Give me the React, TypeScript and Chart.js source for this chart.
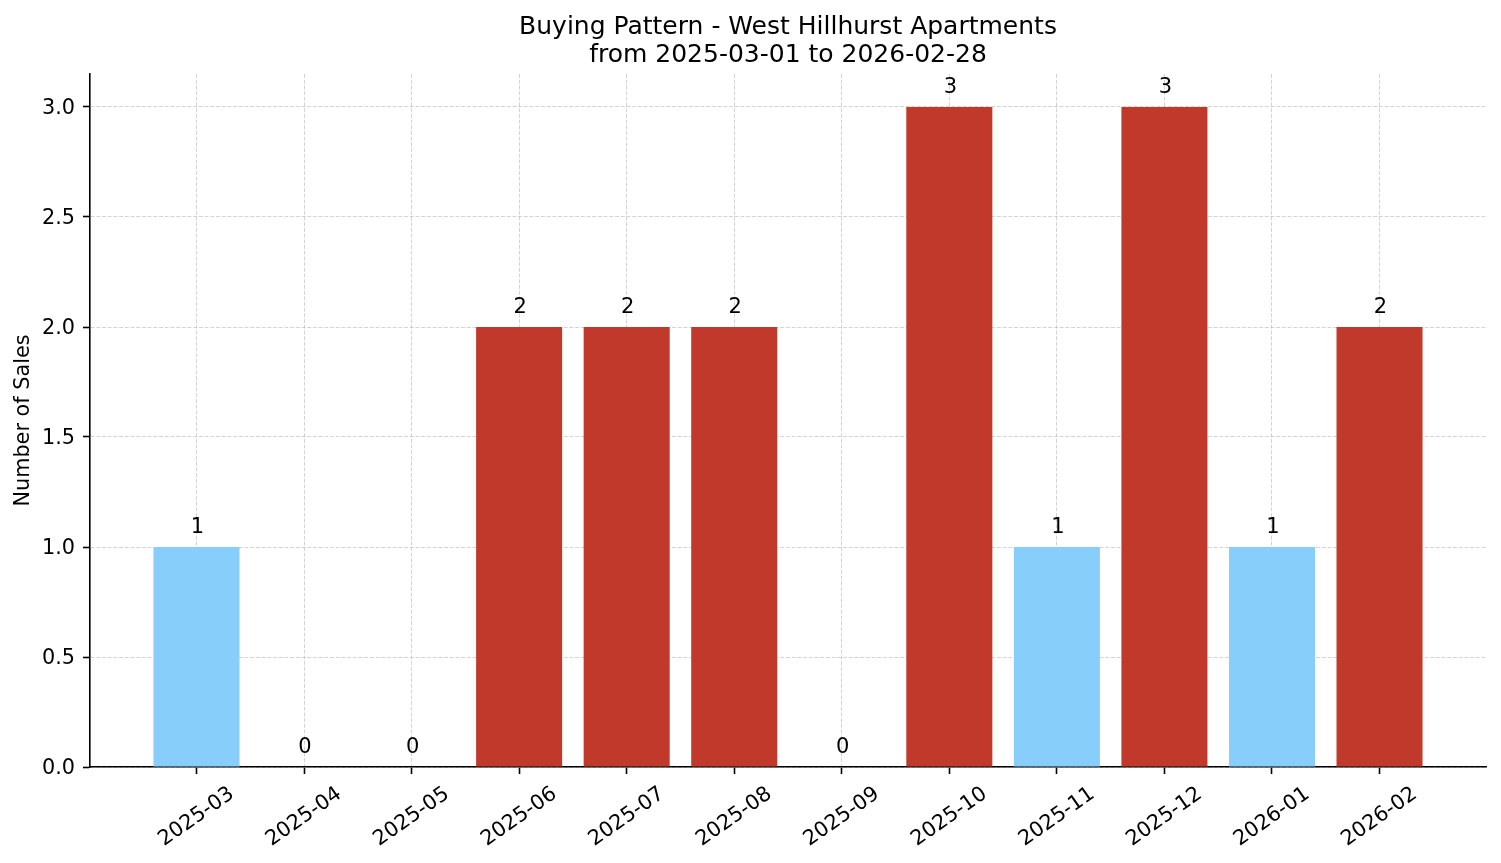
import { useEffect, useRef } from 'react';
import { Chart, registerables } from 'chart.js';

Chart.register(...registerables);

const months = [
  '2025-03', '2025-04', '2025-05', '2025-06', '2025-07', '2025-08',
  '2025-09', '2025-10', '2025-11', '2025-12', '2026-01', '2026-02',
];
const sales = [1, 0, 0, 2, 2, 2, 0, 3, 1, 3, 1, 2];
const yTicks = [0, 0.5, 1, 1.5, 2, 2.5, 3];
const titleLines = ['Buying Pattern - West Hillhurst Apartments', 'from 2025-03-01 to 2026-02-28'];

const BLUE = '#87CEFA';
const RED = '#C0392B';
const FONT = 'DejaVu Sans';
const GRID = 'rgba(176,176,176,0.55)';

// value labels over bars + rotated month labels centred under the ticks
const labelsPlugin = {
  id: 'mplLabels',
  afterDraw(chart: any) {
    const ctx = chart.ctx;
    const meta = chart.getDatasetMeta(0);
    const xs = chart.scales.x;
    ctx.save();
    ctx.fillStyle = '#000';
    ctx.font = `21px "${FONT}"`;
    ctx.textAlign = 'center';
    ctx.textBaseline = 'middle';
    meta.data.forEach((bar: any, i: number) => {
      ctx.fillText(String(sales[i]), bar.x + 1, bar.y - 19);
    });
    ctx.font = `20.8px "${FONT}"`;
    months.forEach((m, i) => {
      const x = xs.getPixelForValue(i);
      ctx.save();
      ctx.translate(x, xs.top + 50);
      ctx.rotate((-35 * Math.PI) / 180);
      ctx.fillText(m, 0, 0);
      ctx.restore();
    });
    ctx.restore();
  },
};

export default function App() {
  const canvasRef = useRef<HTMLCanvasElement>(null);
  const chartRef = useRef<Chart | null>(null);

  useEffect(() => {
    if (!canvasRef.current) return;
    const mean = sales.reduce((a, b) => a + b, 0) / sales.length;

    chartRef.current = new Chart(canvasRef.current, {
      type: 'bar',
      data: {
        datasets: [
          {
            data: sales.map((v, i) => ({ x: i, y: v })),
            backgroundColor: sales.map((v) => (v > mean ? RED : BLUE)),
            borderWidth: 0,
            categoryPercentage: 1,
            barPercentage: 0.8,
          },
        ],
      },
      options: {
        animation: false,
        responsive: true,
        maintainAspectRatio: false,
        layout: { padding: { left: 0, right: 15, top: 0, bottom: 0 } },
        plugins: {
          legend: { display: false },
          tooltip: { enabled: false },
          title: {
            display: true,
            fullSize: false,
            text: titleLines,
            color: '#000',
            font: { family: FONT, size: 25, weight: 'normal', lineHeight: '28px' },
            padding: { top: 13, bottom: 5 },
          },
        },
        scales: {
          x: {
            type: 'linear',
            offset: false,
            min: -0.99,
            max: 11.99,
            z: 1,
            afterBuildTicks: (scale: any) => {
              scale.ticks = months.map((_, i) => ({ value: i }));
            },
            afterFit: (scale: any) => {
              scale.height = 96;
            },
            ticks: { display: false },
            grid: {
              offset: false,
              color: GRID,
              lineWidth: 1,
              drawTicks: true,
              tickLength: 7,
              tickColor: '#000',
              tickWidth: 1.6,
              tickBorderDash: [],
            },
            border: { display: true, color: '#000', width: 1.6, dash: [4, 1.7] },
          },
          y: {
            min: 0,
            max: 3.15,
            z: 1,
            afterBuildTicks: (scale: any) => {
              scale.ticks = yTicks.map((v) => ({ value: v }));
            },
            afterFit: (scale: any) => {
              scale.width = 90;
            },
            ticks: {
              color: '#000',
              padding: 8,
              labelOffset: 1.5,
              font: { family: FONT, size: 20.8 },
              callback: (v: any) => Number(v).toFixed(1),
            },
            grid: {
              color: GRID,
              lineWidth: 1,
              drawTicks: true,
              tickLength: 7,
              tickColor: '#000',
              tickWidth: 1.6,
              tickBorderDash: [],
            },
            border: { display: true, color: '#000', width: 1.6, dash: [4, 1.7] },
            title: {
              display: true,
              text: 'Number of Sales',
              color: '#000',
              font: { family: FONT, size: 20.8, lineHeight: 1 },
              padding: { top: 13, bottom: 0 },
            },
          },
        },
      },
      plugins: [labelsPlugin],
    });

    return () => {
      if (chartRef.current) chartRef.current.destroy();
      chartRef.current = null;
    };
  }, []);

  return (
    <div style={{ position: 'fixed', left: 0, top: 0, width: 1501, height: 863, background: '#fff' }}>
      <canvas ref={canvasRef}></canvas>
    </div>
  );
}
